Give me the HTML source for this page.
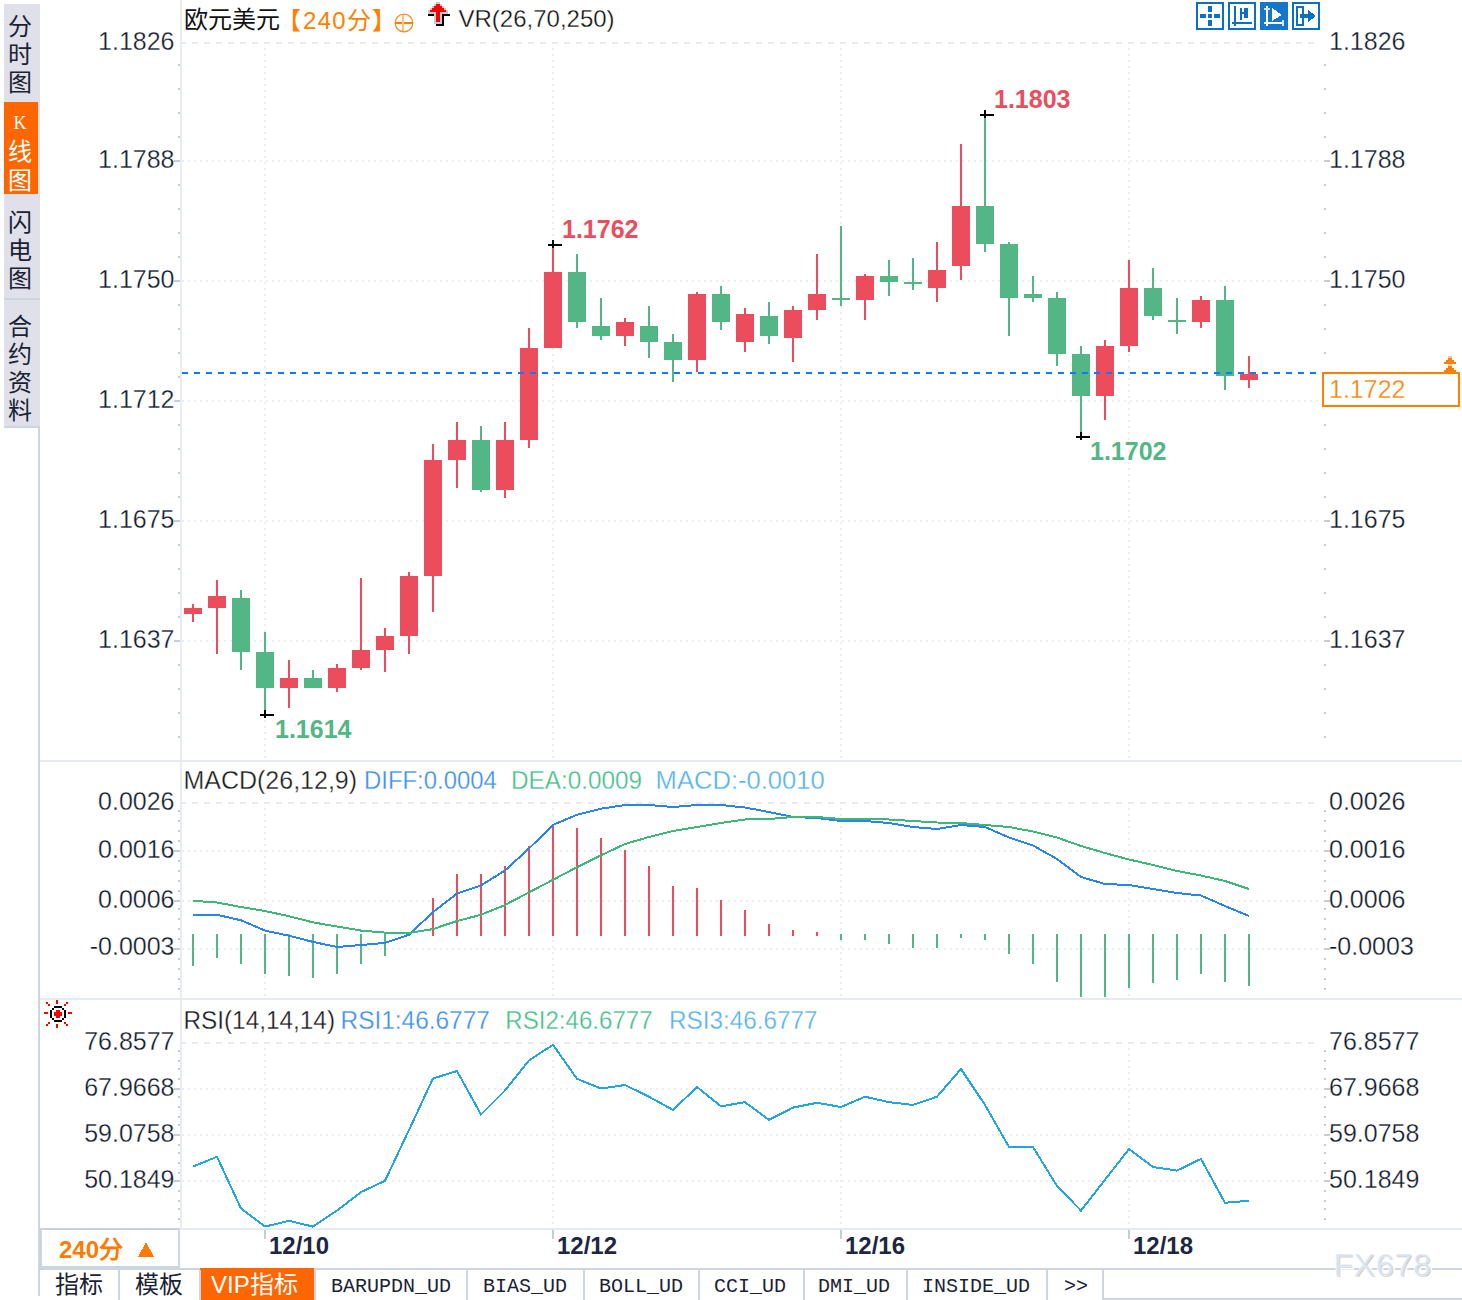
<!DOCTYPE html>
<html lang="zh-CN"><head><meta charset="utf-8"><style>
html,body{margin:0;padding:0;background:#fff;width:1462px;height:1300px;overflow:hidden}
svg{display:block}
text{white-space:pre}
</style></head><body>
<svg width="1462" height="1300" viewBox="0 0 1462 1300" shape-rendering="crispEdges">
<rect x="4" y="4" width="36" height="422" fill="#e0e0ea"/>
<rect x="4" y="298" width="36" height="2" fill="#ccd5de"/>
<rect x="4" y="426" width="36" height="2" fill="#ccd5de"/>
<rect x="4" y="102" width="34" height="92" fill="#ff6600"/>
<rect x="38" y="426" width="2" height="870" fill="#cdd5de"/>
<rect x="180" y="0" width="2" height="1229" fill="#e8edf3"/>
<rect x="40" y="760" width="1422" height="2" fill="#e6ebf1"/>
<rect x="40" y="998" width="1422" height="2" fill="#e6ebf1"/>
<rect x="40" y="1228" width="1422" height="2" fill="#e6ebf1"/>
<line x1="182" y1="43" x2="1318" y2="43" stroke="#e6ecf2" stroke-width="2" stroke-dasharray="6 6" stroke-dashoffset="2"/>
<line x1="182" y1="161" x2="1318" y2="161" stroke="#e9eef3" stroke-width="2" stroke-dasharray="2 4"/>
<line x1="182" y1="281" x2="1318" y2="281" stroke="#e9eef3" stroke-width="2" stroke-dasharray="2 4"/>
<line x1="182" y1="401" x2="1318" y2="401" stroke="#e9eef3" stroke-width="2" stroke-dasharray="2 4"/>
<line x1="182" y1="521" x2="1318" y2="521" stroke="#e9eef3" stroke-width="2" stroke-dasharray="2 4"/>
<line x1="182" y1="641" x2="1318" y2="641" stroke="#e9eef3" stroke-width="2" stroke-dasharray="2 4"/>
<line x1="265" y1="48" x2="265" y2="759" stroke="#e9eef3" stroke-width="2" stroke-dasharray="2 4"/>
<line x1="265" y1="808" x2="265" y2="997" stroke="#e9eef3" stroke-width="2" stroke-dasharray="2 4"/>
<line x1="265" y1="1048" x2="265" y2="1228" stroke="#e9eef3" stroke-width="2" stroke-dasharray="2 4"/>
<line x1="553" y1="48" x2="553" y2="759" stroke="#e9eef3" stroke-width="2" stroke-dasharray="2 4"/>
<line x1="553" y1="808" x2="553" y2="997" stroke="#e9eef3" stroke-width="2" stroke-dasharray="2 4"/>
<line x1="553" y1="1048" x2="553" y2="1228" stroke="#e9eef3" stroke-width="2" stroke-dasharray="2 4"/>
<line x1="841" y1="48" x2="841" y2="759" stroke="#e9eef3" stroke-width="2" stroke-dasharray="2 4"/>
<line x1="841" y1="808" x2="841" y2="997" stroke="#e9eef3" stroke-width="2" stroke-dasharray="2 4"/>
<line x1="841" y1="1048" x2="841" y2="1228" stroke="#e9eef3" stroke-width="2" stroke-dasharray="2 4"/>
<line x1="1129" y1="48" x2="1129" y2="759" stroke="#e9eef3" stroke-width="2" stroke-dasharray="2 4"/>
<line x1="1129" y1="808" x2="1129" y2="997" stroke="#e9eef3" stroke-width="2" stroke-dasharray="2 4"/>
<line x1="1129" y1="1048" x2="1129" y2="1228" stroke="#e9eef3" stroke-width="2" stroke-dasharray="2 4"/>
<line x1="182" y1="803" x2="1318" y2="803" stroke="#e6ecf2" stroke-width="2" stroke-dasharray="6 6" stroke-dashoffset="2"/>
<line x1="182" y1="851" x2="1318" y2="851" stroke="#e9eef3" stroke-width="2" stroke-dasharray="2 4"/>
<line x1="182" y1="901" x2="1318" y2="901" stroke="#e9eef3" stroke-width="2" stroke-dasharray="2 4"/>
<line x1="182" y1="949" x2="1318" y2="949" stroke="#e9eef3" stroke-width="2" stroke-dasharray="2 4"/>
<line x1="182" y1="1043" x2="1318" y2="1043" stroke="#e6ecf2" stroke-width="2" stroke-dasharray="6 6" stroke-dashoffset="2"/>
<line x1="182" y1="1089" x2="1318" y2="1089" stroke="#e9eef3" stroke-width="2" stroke-dasharray="2 4"/>
<line x1="182" y1="1135" x2="1318" y2="1135" stroke="#e9eef3" stroke-width="2" stroke-dasharray="2 4"/>
<line x1="182" y1="1181" x2="1318" y2="1181" stroke="#e9eef3" stroke-width="2" stroke-dasharray="2 4"/>
<rect x="178" y="64" width="2" height="2" fill="#c5cdd7"/>
<rect x="1324" y="64" width="2" height="2" fill="#c5cdd7"/>
<rect x="178" y="88" width="2" height="2" fill="#c5cdd7"/>
<rect x="1324" y="88" width="2" height="2" fill="#c5cdd7"/>
<rect x="178" y="112" width="2" height="2" fill="#c5cdd7"/>
<rect x="1324" y="112" width="2" height="2" fill="#c5cdd7"/>
<rect x="178" y="136" width="2" height="2" fill="#c5cdd7"/>
<rect x="1324" y="136" width="2" height="2" fill="#c5cdd7"/>
<rect x="178" y="160" width="2" height="2" fill="#c5cdd7"/>
<rect x="1324" y="160" width="2" height="2" fill="#c5cdd7"/>
<rect x="178" y="184" width="2" height="2" fill="#c5cdd7"/>
<rect x="1324" y="184" width="2" height="2" fill="#c5cdd7"/>
<rect x="178" y="208" width="2" height="2" fill="#c5cdd7"/>
<rect x="1324" y="208" width="2" height="2" fill="#c5cdd7"/>
<rect x="178" y="232" width="2" height="2" fill="#c5cdd7"/>
<rect x="1324" y="232" width="2" height="2" fill="#c5cdd7"/>
<rect x="178" y="256" width="2" height="2" fill="#c5cdd7"/>
<rect x="1324" y="256" width="2" height="2" fill="#c5cdd7"/>
<rect x="178" y="280" width="2" height="2" fill="#c5cdd7"/>
<rect x="1324" y="280" width="2" height="2" fill="#c5cdd7"/>
<rect x="178" y="304" width="2" height="2" fill="#c5cdd7"/>
<rect x="1324" y="304" width="2" height="2" fill="#c5cdd7"/>
<rect x="178" y="328" width="2" height="2" fill="#c5cdd7"/>
<rect x="1324" y="328" width="2" height="2" fill="#c5cdd7"/>
<rect x="178" y="352" width="2" height="2" fill="#c5cdd7"/>
<rect x="1324" y="352" width="2" height="2" fill="#c5cdd7"/>
<rect x="178" y="376" width="2" height="2" fill="#c5cdd7"/>
<rect x="1324" y="376" width="2" height="2" fill="#c5cdd7"/>
<rect x="178" y="400" width="2" height="2" fill="#c5cdd7"/>
<rect x="1324" y="400" width="2" height="2" fill="#c5cdd7"/>
<rect x="178" y="424" width="2" height="2" fill="#c5cdd7"/>
<rect x="1324" y="424" width="2" height="2" fill="#c5cdd7"/>
<rect x="178" y="448" width="2" height="2" fill="#c5cdd7"/>
<rect x="1324" y="448" width="2" height="2" fill="#c5cdd7"/>
<rect x="178" y="472" width="2" height="2" fill="#c5cdd7"/>
<rect x="1324" y="472" width="2" height="2" fill="#c5cdd7"/>
<rect x="178" y="496" width="2" height="2" fill="#c5cdd7"/>
<rect x="1324" y="496" width="2" height="2" fill="#c5cdd7"/>
<rect x="178" y="520" width="2" height="2" fill="#c5cdd7"/>
<rect x="1324" y="520" width="2" height="2" fill="#c5cdd7"/>
<rect x="178" y="544" width="2" height="2" fill="#c5cdd7"/>
<rect x="1324" y="544" width="2" height="2" fill="#c5cdd7"/>
<rect x="178" y="568" width="2" height="2" fill="#c5cdd7"/>
<rect x="1324" y="568" width="2" height="2" fill="#c5cdd7"/>
<rect x="178" y="592" width="2" height="2" fill="#c5cdd7"/>
<rect x="1324" y="592" width="2" height="2" fill="#c5cdd7"/>
<rect x="178" y="616" width="2" height="2" fill="#c5cdd7"/>
<rect x="1324" y="616" width="2" height="2" fill="#c5cdd7"/>
<rect x="178" y="640" width="2" height="2" fill="#c5cdd7"/>
<rect x="1324" y="640" width="2" height="2" fill="#c5cdd7"/>
<rect x="178" y="664" width="2" height="2" fill="#c5cdd7"/>
<rect x="1324" y="664" width="2" height="2" fill="#c5cdd7"/>
<rect x="178" y="688" width="2" height="2" fill="#c5cdd7"/>
<rect x="1324" y="688" width="2" height="2" fill="#c5cdd7"/>
<rect x="178" y="712" width="2" height="2" fill="#c5cdd7"/>
<rect x="1324" y="712" width="2" height="2" fill="#c5cdd7"/>
<rect x="178" y="736" width="2" height="2" fill="#c5cdd7"/>
<rect x="1324" y="736" width="2" height="2" fill="#c5cdd7"/>
<rect x="174" y="160" width="6" height="2" fill="#c5cdd7"/>
<rect x="1324" y="160" width="6" height="2" fill="#c5cdd7"/>
<rect x="174" y="280" width="6" height="2" fill="#c5cdd7"/>
<rect x="1324" y="280" width="6" height="2" fill="#c5cdd7"/>
<rect x="174" y="400" width="6" height="2" fill="#c5cdd7"/>
<rect x="1324" y="400" width="6" height="2" fill="#c5cdd7"/>
<rect x="174" y="520" width="6" height="2" fill="#c5cdd7"/>
<rect x="1324" y="520" width="6" height="2" fill="#c5cdd7"/>
<rect x="174" y="640" width="6" height="2" fill="#c5cdd7"/>
<rect x="1324" y="640" width="6" height="2" fill="#c5cdd7"/>
<rect x="178" y="810" width="2" height="2" fill="#c5cdd7"/>
<rect x="1324" y="810" width="2" height="2" fill="#c5cdd7"/>
<rect x="178" y="820" width="2" height="2" fill="#c5cdd7"/>
<rect x="1324" y="820" width="2" height="2" fill="#c5cdd7"/>
<rect x="178" y="830" width="2" height="2" fill="#c5cdd7"/>
<rect x="1324" y="830" width="2" height="2" fill="#c5cdd7"/>
<rect x="178" y="840" width="2" height="2" fill="#c5cdd7"/>
<rect x="1324" y="840" width="2" height="2" fill="#c5cdd7"/>
<rect x="178" y="850" width="2" height="2" fill="#c5cdd7"/>
<rect x="1324" y="850" width="2" height="2" fill="#c5cdd7"/>
<rect x="178" y="860" width="2" height="2" fill="#c5cdd7"/>
<rect x="1324" y="860" width="2" height="2" fill="#c5cdd7"/>
<rect x="178" y="870" width="2" height="2" fill="#c5cdd7"/>
<rect x="1324" y="870" width="2" height="2" fill="#c5cdd7"/>
<rect x="178" y="880" width="2" height="2" fill="#c5cdd7"/>
<rect x="1324" y="880" width="2" height="2" fill="#c5cdd7"/>
<rect x="178" y="890" width="2" height="2" fill="#c5cdd7"/>
<rect x="1324" y="890" width="2" height="2" fill="#c5cdd7"/>
<rect x="178" y="900" width="2" height="2" fill="#c5cdd7"/>
<rect x="1324" y="900" width="2" height="2" fill="#c5cdd7"/>
<rect x="178" y="908" width="2" height="2" fill="#c5cdd7"/>
<rect x="1324" y="908" width="2" height="2" fill="#c5cdd7"/>
<rect x="178" y="918" width="2" height="2" fill="#c5cdd7"/>
<rect x="1324" y="918" width="2" height="2" fill="#c5cdd7"/>
<rect x="178" y="928" width="2" height="2" fill="#c5cdd7"/>
<rect x="1324" y="928" width="2" height="2" fill="#c5cdd7"/>
<rect x="178" y="938" width="2" height="2" fill="#c5cdd7"/>
<rect x="1324" y="938" width="2" height="2" fill="#c5cdd7"/>
<rect x="178" y="948" width="2" height="2" fill="#c5cdd7"/>
<rect x="1324" y="948" width="2" height="2" fill="#c5cdd7"/>
<rect x="178" y="958" width="2" height="2" fill="#c5cdd7"/>
<rect x="1324" y="958" width="2" height="2" fill="#c5cdd7"/>
<rect x="178" y="968" width="2" height="2" fill="#c5cdd7"/>
<rect x="1324" y="968" width="2" height="2" fill="#c5cdd7"/>
<rect x="178" y="978" width="2" height="2" fill="#c5cdd7"/>
<rect x="1324" y="978" width="2" height="2" fill="#c5cdd7"/>
<rect x="178" y="988" width="2" height="2" fill="#c5cdd7"/>
<rect x="1324" y="988" width="2" height="2" fill="#c5cdd7"/>
<rect x="174" y="850" width="6" height="2" fill="#c5cdd7"/>
<rect x="1324" y="850" width="6" height="2" fill="#c5cdd7"/>
<rect x="174" y="900" width="6" height="2" fill="#c5cdd7"/>
<rect x="1324" y="900" width="6" height="2" fill="#c5cdd7"/>
<rect x="174" y="948" width="6" height="2" fill="#c5cdd7"/>
<rect x="1324" y="948" width="6" height="2" fill="#c5cdd7"/>
<rect x="178" y="1050" width="2" height="2" fill="#c5cdd7"/>
<rect x="1324" y="1050" width="2" height="2" fill="#c5cdd7"/>
<rect x="178" y="1060" width="2" height="2" fill="#c5cdd7"/>
<rect x="1324" y="1060" width="2" height="2" fill="#c5cdd7"/>
<rect x="178" y="1068" width="2" height="2" fill="#c5cdd7"/>
<rect x="1324" y="1068" width="2" height="2" fill="#c5cdd7"/>
<rect x="178" y="1078" width="2" height="2" fill="#c5cdd7"/>
<rect x="1324" y="1078" width="2" height="2" fill="#c5cdd7"/>
<rect x="178" y="1088" width="2" height="2" fill="#c5cdd7"/>
<rect x="1324" y="1088" width="2" height="2" fill="#c5cdd7"/>
<rect x="178" y="1096" width="2" height="2" fill="#c5cdd7"/>
<rect x="1324" y="1096" width="2" height="2" fill="#c5cdd7"/>
<rect x="178" y="1106" width="2" height="2" fill="#c5cdd7"/>
<rect x="1324" y="1106" width="2" height="2" fill="#c5cdd7"/>
<rect x="178" y="1116" width="2" height="2" fill="#c5cdd7"/>
<rect x="1324" y="1116" width="2" height="2" fill="#c5cdd7"/>
<rect x="178" y="1124" width="2" height="2" fill="#c5cdd7"/>
<rect x="1324" y="1124" width="2" height="2" fill="#c5cdd7"/>
<rect x="178" y="1134" width="2" height="2" fill="#c5cdd7"/>
<rect x="1324" y="1134" width="2" height="2" fill="#c5cdd7"/>
<rect x="178" y="1144" width="2" height="2" fill="#c5cdd7"/>
<rect x="1324" y="1144" width="2" height="2" fill="#c5cdd7"/>
<rect x="178" y="1152" width="2" height="2" fill="#c5cdd7"/>
<rect x="1324" y="1152" width="2" height="2" fill="#c5cdd7"/>
<rect x="178" y="1162" width="2" height="2" fill="#c5cdd7"/>
<rect x="1324" y="1162" width="2" height="2" fill="#c5cdd7"/>
<rect x="178" y="1172" width="2" height="2" fill="#c5cdd7"/>
<rect x="1324" y="1172" width="2" height="2" fill="#c5cdd7"/>
<rect x="178" y="1180" width="2" height="2" fill="#c5cdd7"/>
<rect x="1324" y="1180" width="2" height="2" fill="#c5cdd7"/>
<rect x="178" y="1190" width="2" height="2" fill="#c5cdd7"/>
<rect x="1324" y="1190" width="2" height="2" fill="#c5cdd7"/>
<rect x="178" y="1200" width="2" height="2" fill="#c5cdd7"/>
<rect x="1324" y="1200" width="2" height="2" fill="#c5cdd7"/>
<rect x="178" y="1208" width="2" height="2" fill="#c5cdd7"/>
<rect x="1324" y="1208" width="2" height="2" fill="#c5cdd7"/>
<rect x="178" y="1218" width="2" height="2" fill="#c5cdd7"/>
<rect x="1324" y="1218" width="2" height="2" fill="#c5cdd7"/>
<rect x="174" y="1088" width="6" height="2" fill="#c5cdd7"/>
<rect x="1324" y="1088" width="6" height="2" fill="#c5cdd7"/>
<rect x="174" y="1134" width="6" height="2" fill="#c5cdd7"/>
<rect x="1324" y="1134" width="6" height="2" fill="#c5cdd7"/>
<rect x="174" y="1180" width="6" height="2" fill="#c5cdd7"/>
<rect x="1324" y="1180" width="6" height="2" fill="#c5cdd7"/>
<rect x="192" y="604" width="2" height="18" fill="#eb4d5d"/>
<rect x="184" y="608" width="18" height="6" fill="#eb4d5d"/>
<rect x="216" y="580" width="2" height="74" fill="#eb4d5d"/>
<rect x="208" y="596" width="18" height="12" fill="#eb4d5d"/>
<rect x="240" y="590" width="2" height="80" fill="#53b685"/>
<rect x="232" y="598" width="18" height="54" fill="#53b685"/>
<rect x="264" y="632" width="2" height="78" fill="#53b685"/>
<rect x="256" y="652" width="18" height="36" fill="#53b685"/>
<rect x="288" y="660" width="2" height="48" fill="#eb4d5d"/>
<rect x="280" y="678" width="18" height="10" fill="#eb4d5d"/>
<rect x="312" y="670" width="2" height="18" fill="#53b685"/>
<rect x="304" y="678" width="18" height="10" fill="#53b685"/>
<rect x="336" y="664" width="2" height="28" fill="#eb4d5d"/>
<rect x="328" y="668" width="18" height="20" fill="#eb4d5d"/>
<rect x="360" y="578" width="2" height="92" fill="#eb4d5d"/>
<rect x="352" y="650" width="18" height="18" fill="#eb4d5d"/>
<rect x="384" y="628" width="2" height="44" fill="#eb4d5d"/>
<rect x="376" y="636" width="18" height="14" fill="#eb4d5d"/>
<rect x="408" y="572" width="2" height="82" fill="#eb4d5d"/>
<rect x="400" y="576" width="18" height="60" fill="#eb4d5d"/>
<rect x="432" y="444" width="2" height="168" fill="#eb4d5d"/>
<rect x="424" y="460" width="18" height="116" fill="#eb4d5d"/>
<rect x="456" y="422" width="2" height="66" fill="#eb4d5d"/>
<rect x="448" y="440" width="18" height="20" fill="#eb4d5d"/>
<rect x="480" y="426" width="2" height="66" fill="#53b685"/>
<rect x="472" y="440" width="18" height="50" fill="#53b685"/>
<rect x="504" y="422" width="2" height="76" fill="#eb4d5d"/>
<rect x="496" y="440" width="18" height="50" fill="#eb4d5d"/>
<rect x="528" y="328" width="2" height="120" fill="#eb4d5d"/>
<rect x="520" y="348" width="18" height="92" fill="#eb4d5d"/>
<rect x="552" y="245" width="2" height="103" fill="#eb4d5d"/>
<rect x="544" y="272" width="18" height="76" fill="#eb4d5d"/>
<rect x="576" y="254" width="2" height="74" fill="#53b685"/>
<rect x="568" y="272" width="18" height="50" fill="#53b685"/>
<rect x="600" y="298" width="2" height="42" fill="#53b685"/>
<rect x="592" y="326" width="18" height="10" fill="#53b685"/>
<rect x="624" y="318" width="2" height="28" fill="#eb4d5d"/>
<rect x="616" y="322" width="18" height="14" fill="#eb4d5d"/>
<rect x="648" y="306" width="2" height="52" fill="#53b685"/>
<rect x="640" y="326" width="18" height="16" fill="#53b685"/>
<rect x="672" y="334" width="2" height="48" fill="#53b685"/>
<rect x="664" y="342" width="18" height="18" fill="#53b685"/>
<rect x="696" y="292" width="2" height="80" fill="#eb4d5d"/>
<rect x="688" y="294" width="18" height="66" fill="#eb4d5d"/>
<rect x="720" y="286" width="2" height="44" fill="#53b685"/>
<rect x="712" y="294" width="18" height="28" fill="#53b685"/>
<rect x="744" y="308" width="2" height="44" fill="#eb4d5d"/>
<rect x="736" y="314" width="18" height="28" fill="#eb4d5d"/>
<rect x="768" y="302" width="2" height="42" fill="#53b685"/>
<rect x="760" y="316" width="18" height="20" fill="#53b685"/>
<rect x="792" y="306" width="2" height="56" fill="#eb4d5d"/>
<rect x="784" y="310" width="18" height="28" fill="#eb4d5d"/>
<rect x="816" y="254" width="2" height="66" fill="#eb4d5d"/>
<rect x="808" y="294" width="18" height="16" fill="#eb4d5d"/>
<rect x="840" y="226" width="2" height="80" fill="#53b685"/>
<rect x="832" y="298" width="18" height="2" fill="#53b685"/>
<rect x="864" y="274" width="2" height="46" fill="#eb4d5d"/>
<rect x="856" y="276" width="18" height="24" fill="#eb4d5d"/>
<rect x="888" y="260" width="2" height="36" fill="#53b685"/>
<rect x="880" y="276" width="18" height="6" fill="#53b685"/>
<rect x="912" y="258" width="2" height="32" fill="#53b685"/>
<rect x="904" y="282" width="18" height="2" fill="#53b685"/>
<rect x="936" y="242" width="2" height="60" fill="#eb4d5d"/>
<rect x="928" y="270" width="18" height="18" fill="#eb4d5d"/>
<rect x="960" y="144" width="2" height="136" fill="#eb4d5d"/>
<rect x="952" y="206" width="18" height="60" fill="#eb4d5d"/>
<rect x="984" y="115" width="2" height="137" fill="#53b685"/>
<rect x="976" y="206" width="18" height="38" fill="#53b685"/>
<rect x="1008" y="242" width="2" height="94" fill="#53b685"/>
<rect x="1000" y="244" width="18" height="54" fill="#53b685"/>
<rect x="1032" y="276" width="2" height="26" fill="#53b685"/>
<rect x="1024" y="294" width="18" height="4" fill="#53b685"/>
<rect x="1056" y="292" width="2" height="74" fill="#53b685"/>
<rect x="1048" y="298" width="18" height="56" fill="#53b685"/>
<rect x="1080" y="346" width="2" height="87" fill="#53b685"/>
<rect x="1072" y="354" width="18" height="42" fill="#53b685"/>
<rect x="1104" y="340" width="2" height="80" fill="#eb4d5d"/>
<rect x="1096" y="346" width="18" height="50" fill="#eb4d5d"/>
<rect x="1128" y="260" width="2" height="92" fill="#eb4d5d"/>
<rect x="1120" y="288" width="18" height="58" fill="#eb4d5d"/>
<rect x="1152" y="268" width="2" height="52" fill="#53b685"/>
<rect x="1144" y="288" width="18" height="28" fill="#53b685"/>
<rect x="1176" y="298" width="2" height="36" fill="#53b685"/>
<rect x="1168" y="320" width="18" height="2" fill="#53b685"/>
<rect x="1200" y="296" width="2" height="32" fill="#eb4d5d"/>
<rect x="1192" y="300" width="18" height="22" fill="#eb4d5d"/>
<rect x="1224" y="286" width="2" height="104" fill="#53b685"/>
<rect x="1216" y="300" width="18" height="76" fill="#53b685"/>
<rect x="1248" y="356" width="2" height="32" fill="#eb4d5d"/>
<rect x="1240" y="374" width="18" height="6" fill="#eb4d5d"/>
<line x1="182" y1="373" x2="1318" y2="373" stroke="#0a7cff" stroke-width="2" stroke-dasharray="6 6"/>
<rect x="260" y="714" width="14" height="2" fill="#000"/>
<rect x="264" y="710" width="2" height="8" fill="#000"/>
<rect x="548" y="244" width="14" height="2" fill="#000"/>
<rect x="552" y="240" width="2" height="8" fill="#000"/>
<rect x="980" y="114" width="14" height="2" fill="#000"/>
<rect x="984" y="110" width="2" height="8" fill="#000"/>
<rect x="1076" y="436" width="14" height="2" fill="#000"/>
<rect x="1080" y="432" width="2" height="8" fill="#000"/>
<text x="275" y="738" font-size="25" fill="#53b685" text-anchor="start" font-weight="bold" style='font-family:"Liberation Sans", sans-serif' >1.1614</text>
<text x="562" y="238" font-size="25" fill="#eb4d5d" text-anchor="start" font-weight="bold" style='font-family:"Liberation Sans", sans-serif' >1.1762</text>
<text x="994" y="108" font-size="25" fill="#eb4d5d" text-anchor="start" font-weight="bold" style='font-family:"Liberation Sans", sans-serif' >1.1803</text>
<text x="1090" y="460" font-size="25" fill="#53b685" text-anchor="start" font-weight="bold" style='font-family:"Liberation Sans", sans-serif' >1.1702</text>
<text x="174.5" y="50" font-size="25" fill="#121a2c" text-anchor="end" font-weight="normal" stroke="#fff" stroke-width="0.3" style='font-family:"Liberation Sans", sans-serif' >1.1826</text>
<text x="1329" y="50" font-size="25" fill="#121a2c" text-anchor="start" font-weight="normal" stroke="#fff" stroke-width="0.3" style='font-family:"Liberation Sans", sans-serif' >1.1826</text>
<text x="174.5" y="168" font-size="25" fill="#121a2c" text-anchor="end" font-weight="normal" stroke="#fff" stroke-width="0.3" style='font-family:"Liberation Sans", sans-serif' >1.1788</text>
<text x="1329" y="168" font-size="25" fill="#121a2c" text-anchor="start" font-weight="normal" stroke="#fff" stroke-width="0.3" style='font-family:"Liberation Sans", sans-serif' >1.1788</text>
<text x="174.5" y="288" font-size="25" fill="#121a2c" text-anchor="end" font-weight="normal" stroke="#fff" stroke-width="0.3" style='font-family:"Liberation Sans", sans-serif' >1.1750</text>
<text x="1329" y="288" font-size="25" fill="#121a2c" text-anchor="start" font-weight="normal" stroke="#fff" stroke-width="0.3" style='font-family:"Liberation Sans", sans-serif' >1.1750</text>
<text x="174.5" y="408" font-size="25" fill="#121a2c" text-anchor="end" font-weight="normal" stroke="#fff" stroke-width="0.3" style='font-family:"Liberation Sans", sans-serif' >1.1712</text>
<text x="174.5" y="528" font-size="25" fill="#121a2c" text-anchor="end" font-weight="normal" stroke="#fff" stroke-width="0.3" style='font-family:"Liberation Sans", sans-serif' >1.1675</text>
<text x="1329" y="528" font-size="25" fill="#121a2c" text-anchor="start" font-weight="normal" stroke="#fff" stroke-width="0.3" style='font-family:"Liberation Sans", sans-serif' >1.1675</text>
<text x="174.5" y="648" font-size="25" fill="#121a2c" text-anchor="end" font-weight="normal" stroke="#fff" stroke-width="0.3" style='font-family:"Liberation Sans", sans-serif' >1.1637</text>
<text x="1329" y="648" font-size="25" fill="#121a2c" text-anchor="start" font-weight="normal" stroke="#fff" stroke-width="0.3" style='font-family:"Liberation Sans", sans-serif' >1.1637</text>
<text x="174.5" y="809.5" font-size="25" fill="#121a2c" text-anchor="end" font-weight="normal" stroke="#fff" stroke-width="0.3" style='font-family:"Liberation Sans", sans-serif' >0.0026</text>
<text x="1329" y="809.5" font-size="25" fill="#121a2c" text-anchor="start" font-weight="normal" stroke="#fff" stroke-width="0.3" style='font-family:"Liberation Sans", sans-serif' >0.0026</text>
<text x="174.5" y="857.8" font-size="25" fill="#121a2c" text-anchor="end" font-weight="normal" stroke="#fff" stroke-width="0.3" style='font-family:"Liberation Sans", sans-serif' >0.0016</text>
<text x="1329" y="857.8" font-size="25" fill="#121a2c" text-anchor="start" font-weight="normal" stroke="#fff" stroke-width="0.3" style='font-family:"Liberation Sans", sans-serif' >0.0016</text>
<text x="174.5" y="907.5" font-size="25" fill="#121a2c" text-anchor="end" font-weight="normal" stroke="#fff" stroke-width="0.3" style='font-family:"Liberation Sans", sans-serif' >0.0006</text>
<text x="1329" y="907.5" font-size="25" fill="#121a2c" text-anchor="start" font-weight="normal" stroke="#fff" stroke-width="0.3" style='font-family:"Liberation Sans", sans-serif' >0.0006</text>
<text x="174.5" y="955.3" font-size="25" fill="#121a2c" text-anchor="end" font-weight="normal" stroke="#fff" stroke-width="0.3" style='font-family:"Liberation Sans", sans-serif' >-0.0003</text>
<text x="1329" y="955.3" font-size="25" fill="#121a2c" text-anchor="start" font-weight="normal" stroke="#fff" stroke-width="0.3" style='font-family:"Liberation Sans", sans-serif' >-0.0003</text>
<text x="174.5" y="1050" font-size="25" fill="#121a2c" text-anchor="end" font-weight="normal" stroke="#fff" stroke-width="0.3" style='font-family:"Liberation Sans", sans-serif' >76.8577</text>
<text x="1329" y="1050" font-size="25" fill="#121a2c" text-anchor="start" font-weight="normal" stroke="#fff" stroke-width="0.3" style='font-family:"Liberation Sans", sans-serif' >76.8577</text>
<text x="174.5" y="1096" font-size="25" fill="#121a2c" text-anchor="end" font-weight="normal" stroke="#fff" stroke-width="0.3" style='font-family:"Liberation Sans", sans-serif' >67.9668</text>
<text x="1329" y="1096" font-size="25" fill="#121a2c" text-anchor="start" font-weight="normal" stroke="#fff" stroke-width="0.3" style='font-family:"Liberation Sans", sans-serif' >67.9668</text>
<text x="174.5" y="1142" font-size="25" fill="#121a2c" text-anchor="end" font-weight="normal" stroke="#fff" stroke-width="0.3" style='font-family:"Liberation Sans", sans-serif' >59.0758</text>
<text x="1329" y="1142" font-size="25" fill="#121a2c" text-anchor="start" font-weight="normal" stroke="#fff" stroke-width="0.3" style='font-family:"Liberation Sans", sans-serif' >59.0758</text>
<text x="174.5" y="1188" font-size="25" fill="#121a2c" text-anchor="end" font-weight="normal" stroke="#fff" stroke-width="0.3" style='font-family:"Liberation Sans", sans-serif' >50.1849</text>
<text x="1329" y="1188" font-size="25" fill="#121a2c" text-anchor="start" font-weight="normal" stroke="#fff" stroke-width="0.3" style='font-family:"Liberation Sans", sans-serif' >50.1849</text>
<rect x="1323" y="373" width="136" height="33" fill="#fff" stroke="#ff7f00" stroke-width="2"/>
<text x="1329" y="398" font-size="25" fill="#ff7f00" text-anchor="start" font-weight="normal" stroke="#fff" stroke-width="0.3" style='font-family:"Liberation Sans", sans-serif' >1.1722</text>
<rect x="1448" y="358" width="4" height="2" fill="#ff7f00"/>
<rect x="1446" y="360" width="8" height="2" fill="#ff7f00"/>
<rect x="1444" y="362" width="12" height="2" fill="#ff7f00"/>
<rect x="1448" y="366" width="4" height="2" fill="#ff7f00"/>
<rect x="1446" y="368" width="8" height="2" fill="#ff7f00"/>
<rect x="1444" y="370" width="12" height="2" fill="#ff7f00"/>
<rect x="1448" y="356" width="4" height="2" fill="#ffc890"/>
<rect x="1448" y="364" width="4" height="2" fill="#ffc890"/>
<rect x="192" y="934" width="2" height="32" fill="#53b685"/>
<rect x="216" y="934" width="2" height="24" fill="#53b685"/>
<rect x="240" y="934" width="2" height="30" fill="#53b685"/>
<rect x="264" y="934" width="2" height="40" fill="#53b685"/>
<rect x="288" y="934" width="2" height="42" fill="#53b685"/>
<rect x="312" y="934" width="2" height="44" fill="#53b685"/>
<rect x="336" y="934" width="2" height="40" fill="#53b685"/>
<rect x="360" y="934" width="2" height="30" fill="#53b685"/>
<rect x="384" y="934" width="2" height="22" fill="#53b685"/>
<rect x="408" y="934" width="2" height="2" fill="#53b685"/>
<rect x="432" y="898" width="2" height="38" fill="#eb4d5d"/>
<rect x="456" y="874" width="2" height="62" fill="#eb4d5d"/>
<rect x="480" y="874" width="2" height="62" fill="#eb4d5d"/>
<rect x="504" y="866" width="2" height="70" fill="#eb4d5d"/>
<rect x="528" y="846" width="2" height="90" fill="#eb4d5d"/>
<rect x="552" y="824" width="2" height="112" fill="#eb4d5d"/>
<rect x="576" y="828" width="2" height="108" fill="#eb4d5d"/>
<rect x="600" y="838" width="2" height="98" fill="#eb4d5d"/>
<rect x="624" y="850" width="2" height="86" fill="#eb4d5d"/>
<rect x="648" y="866" width="2" height="70" fill="#eb4d5d"/>
<rect x="672" y="886" width="2" height="50" fill="#eb4d5d"/>
<rect x="696" y="888" width="2" height="48" fill="#eb4d5d"/>
<rect x="720" y="900" width="2" height="36" fill="#eb4d5d"/>
<rect x="744" y="910" width="2" height="26" fill="#eb4d5d"/>
<rect x="768" y="924" width="2" height="12" fill="#eb4d5d"/>
<rect x="792" y="930" width="2" height="6" fill="#eb4d5d"/>
<rect x="816" y="932" width="2" height="4" fill="#eb4d5d"/>
<rect x="840" y="934" width="2" height="6" fill="#53b685"/>
<rect x="864" y="934" width="2" height="6" fill="#53b685"/>
<rect x="888" y="934" width="2" height="10" fill="#53b685"/>
<rect x="912" y="934" width="2" height="14" fill="#53b685"/>
<rect x="936" y="934" width="2" height="14" fill="#53b685"/>
<rect x="960" y="934" width="2" height="4" fill="#53b685"/>
<rect x="984" y="934" width="2" height="6" fill="#53b685"/>
<rect x="1008" y="934" width="2" height="20" fill="#53b685"/>
<rect x="1032" y="934" width="2" height="30" fill="#53b685"/>
<rect x="1056" y="934" width="2" height="48" fill="#53b685"/>
<rect x="1080" y="934" width="2" height="63" fill="#53b685"/>
<rect x="1104" y="934" width="2" height="63" fill="#53b685"/>
<rect x="1128" y="934" width="2" height="54" fill="#53b685"/>
<rect x="1152" y="934" width="2" height="49" fill="#53b685"/>
<rect x="1176" y="934" width="2" height="46" fill="#53b685"/>
<rect x="1200" y="934" width="2" height="40" fill="#53b685"/>
<rect x="1224" y="934" width="2" height="48" fill="#53b685"/>
<rect x="1248" y="934" width="2" height="52" fill="#53b685"/>
<polyline points="193,914.8 217,914.8 241,920.3 265,930.6 289,935.7 313,941.9 337,947.0 361,945.0 385,942.9 409,934.7 433,912.1 457,893.6 481,885.4 505,870.5 529,848.5 553,824.9 577,814.7 601,808.7 625,805.0 649,805.0 673,807.0 697,805.0 721,805.0 745,807.5 769,812.0 793,817.0 817,818.0 841,821.0 865,821.0 889,823.0 913,827.0 937,829.0 961,825.0 985,827.0 1009,837.5 1033,845.5 1057,859.0 1081,877.0 1105,884.0 1129,885.0 1153,889.0 1177,893.0 1201,895.5 1225,906.0 1249,916.0" fill="none" stroke="#2a84f0" stroke-width="2"/>
<polyline points="193,900.8 217,902.5 241,907.0 265,911.0 289,916.2 313,922.4 337,926.5 361,930.6 385,932.6 409,933.0 433,929.1 457,921.0 481,914.8 505,905.0 529,892.4 553,879.8 577,867.2 601,855.3 625,844.0 649,837.0 673,831.0 697,827.0 721,823.0 745,819.5 769,819.0 793,817.0 817,817.0 841,819.0 865,819.0 889,819.5 913,821.0 937,822.5 961,823.0 985,825.0 1009,827.0 1033,831.5 1057,837.5 1081,846.0 1105,853.0 1129,859.5 1153,865.0 1177,871.0 1201,875.5 1225,881.0 1249,889.0" fill="none" stroke="#3cb878" stroke-width="2"/>
<polyline points="193,1166.5 217,1156.8 241,1208.5 265,1226.6 289,1220.8 313,1226.6 337,1210.6 361,1192.1 385,1180.8 409,1130.0 433,1078.5 457,1071.0 481,1114.5 505,1090.5 529,1060.4 553,1044.8 577,1078.8 601,1088.5 625,1085.0 649,1096.7 673,1110.0 697,1087.0 721,1106.3 745,1102.2 769,1119.9 793,1107.6 817,1102.8 841,1107.0 865,1096.7 889,1102.2 913,1104.9 937,1096.7 961,1069.0 985,1104.9 1009,1147.0 1033,1147.0 1057,1186.0 1081,1210.6 1105,1179.8 1129,1149.0 1153,1167.0 1177,1170.6 1201,1158.9 1225,1202.8 1249,1200.7" fill="none" stroke="#23a6de" stroke-width="2"/>
<text x="184" y="27.5" font-size="24" fill="#111" text-anchor="start" font-weight="normal" style='font-family:"Liberation Sans", sans-serif' >欧元美元</text>
<text x="277" y="28.5" font-size="24" fill="#ff8000" text-anchor="start" font-weight="normal" style='font-family:"Liberation Sans", sans-serif' >【</text>
<text x="303" y="28.5" font-size="24" fill="#ff8000" text-anchor="start" font-weight="normal" style='font-family:"Liberation Sans", sans-serif' textLength="68" lengthAdjust="spacing">240分</text>
<text x="372" y="28.5" font-size="24" fill="#ff8000" text-anchor="start" font-weight="normal" style='font-family:"Liberation Sans", sans-serif' >】</text>
<text x="183.4" y="789" font-size="25" fill="#1b1b1b" text-anchor="start" font-weight="normal" stroke="#fff" stroke-width="0.3" style='font-family:"Liberation Sans", sans-serif' >MACD(26,12,9)</text>
<text x="364" y="788.5" font-size="25" fill="#3b8ff0" text-anchor="start" font-weight="normal" stroke="#fff" stroke-width="0.3" style='font-family:"Liberation Sans", sans-serif' textLength="132.9" lengthAdjust="spacingAndGlyphs">DIFF:0.0004</text>
<text x="511" y="789" font-size="25" fill="#45c08a" text-anchor="start" font-weight="normal" stroke="#fff" stroke-width="0.3" style='font-family:"Liberation Sans", sans-serif' textLength="131.1" lengthAdjust="spacingAndGlyphs">DEA:0.0009</text>
<text x="655.6" y="789" font-size="25" fill="#55b3ef" text-anchor="start" font-weight="normal" stroke="#fff" stroke-width="0.3" style='font-family:"Liberation Sans", sans-serif' textLength="169.2" lengthAdjust="spacingAndGlyphs">MACD:-0.0010</text>
<text x="183.4" y="1029" font-size="25" fill="#1b1b1b" text-anchor="start" font-weight="normal" stroke="#fff" stroke-width="0.3" style='font-family:"Liberation Sans", sans-serif' textLength="151.6" lengthAdjust="spacingAndGlyphs">RSI(14,14,14)</text>
<text x="340.5" y="1029" font-size="25" fill="#3b8ff0" text-anchor="start" font-weight="normal" stroke="#fff" stroke-width="0.3" style='font-family:"Liberation Sans", sans-serif' textLength="149.3" lengthAdjust="spacingAndGlyphs">RSI1:46.6777</text>
<text x="505.3" y="1029" font-size="25" fill="#45c08a" text-anchor="start" font-weight="normal" stroke="#fff" stroke-width="0.3" style='font-family:"Liberation Sans", sans-serif' textLength="147.3" lengthAdjust="spacingAndGlyphs">RSI2:46.6777</text>
<text x="669" y="1029" font-size="25" fill="#55b3ef" text-anchor="start" font-weight="normal" stroke="#fff" stroke-width="0.3" style='font-family:"Liberation Sans", sans-serif' textLength="148.4" lengthAdjust="spacingAndGlyphs">RSI3:46.6777</text>
<text x="458.5" y="27" font-size="24" fill="#111" text-anchor="start" font-weight="normal" stroke="#fff" stroke-width="0.3" style='font-family:"Liberation Sans", sans-serif' >VR(26,70,250)</text>
<rect x="264" y="1230" width="2" height="9" fill="#c5cdd7"/>
<text x="269" y="1254" font-size="24" fill="#1e2640" text-anchor="start" font-weight="bold" style='font-family:"Liberation Sans", sans-serif' >12/10</text>
<rect x="552" y="1230" width="2" height="9" fill="#c5cdd7"/>
<text x="557" y="1254" font-size="24" fill="#1e2640" text-anchor="start" font-weight="bold" style='font-family:"Liberation Sans", sans-serif' >12/12</text>
<rect x="840" y="1230" width="2" height="9" fill="#c5cdd7"/>
<text x="845" y="1254" font-size="24" fill="#1e2640" text-anchor="start" font-weight="bold" style='font-family:"Liberation Sans", sans-serif' >12/16</text>
<rect x="1128" y="1230" width="2" height="9" fill="#c5cdd7"/>
<text x="1133" y="1254" font-size="24" fill="#1e2640" text-anchor="start" font-weight="bold" style='font-family:"Liberation Sans", sans-serif' >12/18</text>
<rect x="40" y="1228" width="140" height="2" fill="#c8d0d9"/>
<rect x="178" y="1228" width="2" height="40" fill="#cdd5de"/>
<rect x="40" y="1228" width="2" height="40" fill="#cdd5de"/>
<text x="59" y="1258" font-size="24" fill="#ff7a00" text-anchor="start" font-weight="bold" style='font-family:"Liberation Sans", sans-serif' >240分</text>
<path d="M146 1242 L154 1257 L138 1257 Z" fill="#ff7a00"/>
<rect x="38" y="1266" width="142" height="4" fill="#cdd5de"/>
<rect x="180" y="1268" width="1282" height="2" fill="#cdd5de"/>
<rect x="200" y="1268" width="114" height="32" fill="#ff6600"/>
<rect x="118" y="1270" width="2" height="30" fill="#cdd5de"/>
<rect x="199" y="1270" width="2" height="30" fill="#cdd5de"/>
<rect x="314" y="1270" width="2" height="30" fill="#cdd5de"/>
<rect x="466" y="1270" width="2" height="30" fill="#cdd5de"/>
<rect x="583" y="1270" width="2" height="30" fill="#cdd5de"/>
<rect x="698" y="1270" width="2" height="30" fill="#cdd5de"/>
<rect x="803" y="1270" width="2" height="30" fill="#cdd5de"/>
<rect x="906" y="1270" width="2" height="30" fill="#cdd5de"/>
<rect x="1046" y="1270" width="2" height="30" fill="#cdd5de"/>
<rect x="1102" y="1270" width="2" height="30" fill="#cdd5de"/>
<rect x="1104" y="1298" width="358" height="2" fill="#cdd5de"/>
<text x="55" y="1292.5" font-size="24" fill="#1b2234" text-anchor="start" font-weight="normal" style='font-family:"Liberation Sans", sans-serif' >指标</text>
<text x="135" y="1292.5" font-size="24" fill="#1b2234" text-anchor="start" font-weight="normal" style='font-family:"Liberation Sans", sans-serif' >模板</text>
<text x="211" y="1292.5" font-size="24" fill="#fff" text-anchor="start" font-weight="normal" style='font-family:"Liberation Sans", sans-serif' >VIP指标</text>
<text x="331" y="1292" font-size="20" fill="#1b2234" text-anchor="start" font-weight="normal" style='font-family:"Liberation Mono", monospace' >BARUPDN_UD</text>
<text x="483" y="1292" font-size="20" fill="#1b2234" text-anchor="start" font-weight="normal" style='font-family:"Liberation Mono", monospace' >BIAS_UD</text>
<text x="599" y="1292" font-size="20" fill="#1b2234" text-anchor="start" font-weight="normal" style='font-family:"Liberation Mono", monospace' >BOLL_UD</text>
<text x="714" y="1292" font-size="20" fill="#1b2234" text-anchor="start" font-weight="normal" style='font-family:"Liberation Mono", monospace' >CCI_UD</text>
<text x="818" y="1292" font-size="20" fill="#1b2234" text-anchor="start" font-weight="normal" style='font-family:"Liberation Mono", monospace' >DMI_UD</text>
<text x="922" y="1292" font-size="20" fill="#1b2234" text-anchor="start" font-weight="normal" style='font-family:"Liberation Mono", monospace' >INSIDE_UD</text>
<text x="1064" y="1292" font-size="20" fill="#1b2234" text-anchor="start" font-weight="normal" style='font-family:"Liberation Mono", monospace' >&gt;&gt;</text>
<text x="1334.5" y="1276.5" font-size="32" fill="#fff" text-anchor="start" font-weight="normal" style='font-family:"Liberation Sans", sans-serif' letter-spacing="0.8" stroke="#fff" stroke-width="3">FX678</text>
<text x="1334.5" y="1276.5" font-size="32" fill="#c9b9aa" text-anchor="start" font-weight="normal" stroke="#fff" stroke-width="0.3" style='font-family:"Liberation Sans", sans-serif' letter-spacing="0.8">FX678</text>
<text x="1333.5" y="1275.5" font-size="32" fill="#d3e3f3" text-anchor="start" font-weight="normal" stroke="#fff" stroke-width="0.3" style='font-family:"Liberation Sans", sans-serif' letter-spacing="0.8">FX678</text>
<text x="8" y="35" font-size="24" fill="#1b2234" text-anchor="start" font-weight="normal" style='font-family:"Liberation Sans", sans-serif' >分</text>
<text x="8" y="63" font-size="24" fill="#1b2234" text-anchor="start" font-weight="normal" style='font-family:"Liberation Sans", sans-serif' >时</text>
<text x="8" y="91" font-size="24" fill="#1b2234" text-anchor="start" font-weight="normal" style='font-family:"Liberation Sans", sans-serif' >图</text>
<text x="20" y="129" font-size="18" fill="#fff" text-anchor="middle" font-weight="normal" style='font-family:"Liberation Serif", serif' >K</text>
<text x="8" y="160" font-size="24" fill="#fff" text-anchor="start" font-weight="normal" style='font-family:"Liberation Sans", sans-serif' >线</text>
<text x="8" y="188.5" font-size="24" fill="#fff" text-anchor="start" font-weight="normal" style='font-family:"Liberation Sans", sans-serif' >图</text>
<text x="8" y="230.5" font-size="24" fill="#1b2234" text-anchor="start" font-weight="normal" style='font-family:"Liberation Sans", sans-serif' >闪</text>
<text x="8" y="258.5" font-size="24" fill="#1b2234" text-anchor="start" font-weight="normal" style='font-family:"Liberation Sans", sans-serif' >电</text>
<text x="8" y="286.5" font-size="24" fill="#1b2234" text-anchor="start" font-weight="normal" style='font-family:"Liberation Sans", sans-serif' >图</text>
<text x="8" y="334.5" font-size="24" fill="#1b2234" text-anchor="start" font-weight="normal" style='font-family:"Liberation Sans", sans-serif' >合</text>
<text x="8" y="362.5" font-size="24" fill="#1b2234" text-anchor="start" font-weight="normal" style='font-family:"Liberation Sans", sans-serif' >约</text>
<text x="8" y="390.5" font-size="24" fill="#1b2234" text-anchor="start" font-weight="normal" style='font-family:"Liberation Sans", sans-serif' >资</text>
<text x="8" y="418.5" font-size="24" fill="#1b2234" text-anchor="start" font-weight="normal" style='font-family:"Liberation Sans", sans-serif' >料</text>
<rect x="1197" y="3" width="26" height="26" fill="none" stroke="#0b6fc6" stroke-width="2"/>
<rect x="1208" y="6" width="4" height="6" fill="#0b6fc6"/>
<rect x="1208" y="14" width="4" height="4" fill="#0b6fc6"/>
<rect x="1200" y="14" width="6" height="4" fill="#0b6fc6"/>
<rect x="1214" y="14" width="6" height="4" fill="#0b6fc6"/>
<rect x="1208" y="20" width="4" height="6" fill="#0b6fc6"/>
<rect x="1229" y="3" width="26" height="26" fill="none" stroke="#0b6fc6" stroke-width="2"/>
<rect x="1234" y="6" width="2" height="20" fill="#0b6fc6"/>
<rect x="1232" y="22" width="20" height="2" fill="#0b6fc6"/>
<rect x="1240" y="8" width="2" height="12" fill="#0b6fc6"/>
<rect x="1244" y="8" width="4" height="10" fill="#0b6fc6"/>
<rect x="1242" y="12" width="2" height="2" fill="#0b6fc6"/>
<rect x="1260" y="2" width="28" height="28" fill="#1477cc"/>
<rect x="1266" y="6" width="2" height="20" fill="#fff"/>
<rect x="1264" y="22" width="20" height="2" fill="#fff"/>
<rect x="1264" y="8" width="6" height="2" fill="#cfe3f5"/>
<rect x="1282" y="20" width="2" height="6" fill="#cfe3f5"/>
<path d="M1272 8 L1282 15 L1272 21 Z" fill="#fff"/>
<rect x="1293" y="3" width="26" height="26" fill="none" stroke="#0b6fc6" stroke-width="2"/>
<rect x="1297" y="7" width="6" height="18" fill="none" stroke="#0b6fc6" stroke-width="2"/>
<rect x="1300" y="14" width="10" height="4" fill="#0b6fc6"/>
<path d="M1308 10 L1316 16 L1308 22 Z" fill="#0b6fc6"/>
<circle cx="404" cy="23" r="8.8" fill="none" stroke="#ff8a20" stroke-width="1.3" shape-rendering="geometricPrecision"/>
<rect x="395" y="22" width="18" height="2" fill="#ff8000"/>
<rect x="402" y="15" width="2" height="16" fill="#ffc080"/>
<rect x="436" y="2" width="4" height="2" fill="#c4ccd0"/>
<rect x="434" y="4" width="2" height="2" fill="#c4ccd0"/>
<rect x="440" y="4" width="2" height="2" fill="#c4ccd0"/>
<rect x="432" y="6" width="2" height="2" fill="#c4ccd0"/>
<rect x="442" y="6" width="2" height="2" fill="#c4ccd0"/>
<rect x="430" y="8" width="2" height="2" fill="#c4ccd0"/>
<rect x="444" y="8" width="2" height="2" fill="#c4ccd0"/>
<rect x="428" y="10" width="2" height="2" fill="#c4ccd0"/>
<rect x="446" y="10" width="2" height="2" fill="#c4ccd0"/>
<rect x="428" y="12" width="8" height="2" fill="#c4ccd0"/>
<rect x="440" y="12" width="8" height="2" fill="#c4ccd0"/>
<rect x="434" y="14" width="2" height="10" fill="#c4ccd0"/>
<rect x="440" y="14" width="2" height="8" fill="#c4ccd0"/>
<rect x="434" y="22" width="8" height="2" fill="#c4ccd0"/>
<rect x="436" y="4" width="4" height="2" fill="#f00"/>
<rect x="434" y="6" width="8" height="2" fill="#f00"/>
<rect x="432" y="8" width="12" height="2" fill="#f00"/>
<rect x="430" y="10" width="16" height="2" fill="#f00"/>
<rect x="436" y="12" width="4" height="10" fill="#f00"/>
<rect x="428" y="14" width="6" height="2" fill="#000"/>
<rect x="442" y="14" width="8" height="2" fill="#000"/>
<rect x="442" y="16" width="2" height="8" fill="#000"/>
<rect x="436" y="24" width="8" height="2" fill="#000"/>
<rect x="56" y="1000" width="2" height="4" fill="#ff0000"/>
<rect x="56" y="1024" width="2" height="4" fill="#ff0000"/>
<rect x="44" y="1012" width="4" height="2" fill="#ff0000"/>
<rect x="68" y="1012" width="4" height="2" fill="#ff0000"/>
<rect x="46" y="1002" width="2" height="2" fill="#ff0000"/>
<rect x="48" y="1004" width="2" height="2" fill="#ff0000"/>
<rect x="66" y="1002" width="2" height="2" fill="#ff0000"/>
<rect x="64" y="1004" width="2" height="2" fill="#ff0000"/>
<rect x="46" y="1024" width="2" height="2" fill="#ff0000"/>
<rect x="48" y="1022" width="2" height="2" fill="#ff0000"/>
<rect x="66" y="1024" width="2" height="2" fill="#ff0000"/>
<rect x="64" y="1022" width="2" height="2" fill="#ff0000"/>
<rect x="54" y="1006" width="8" height="2" fill="#000"/>
<rect x="54" y="1020" width="8" height="2" fill="#000"/>
<rect x="50" y="1010" width="2" height="8" fill="#000"/>
<rect x="64" y="1010" width="2" height="8" fill="#000"/>
<rect x="52" y="1008" width="2" height="2" fill="#000"/>
<rect x="62" y="1008" width="2" height="2" fill="#000"/>
<rect x="52" y="1018" width="2" height="2" fill="#000"/>
<rect x="62" y="1018" width="2" height="2" fill="#000"/>
<rect x="56" y="1010" width="4" height="8" fill="#ff0000"/>
<rect x="54" y="1012" width="8" height="4" fill="#ff0000"/>
</svg>
</body></html>
